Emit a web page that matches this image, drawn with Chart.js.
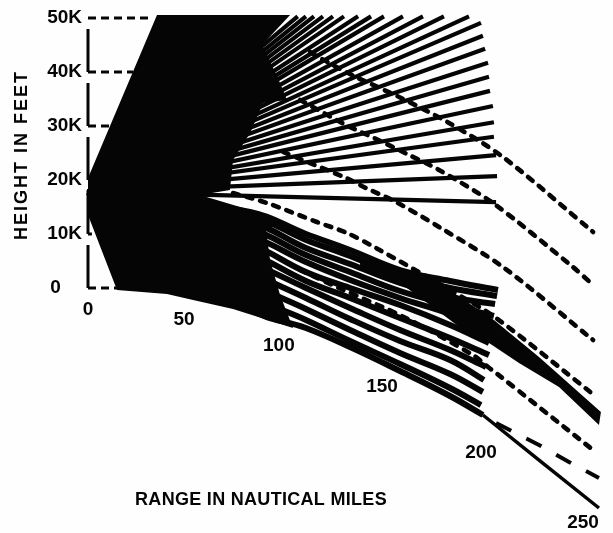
<!DOCTYPE html>
<html>
<head>
<meta charset="utf-8">
<title>Height and range</title>
<style>
  html, body { margin: 0; padding: 0; background: #fefefe; }
  canvas { display: block; filter: blur(0.5px); }
</style>
<script src="https://cdn.jsdelivr.net/npm/chart.js@4/dist/chart.umd.min.js"></script>
</head>
<body>
<canvas id="myChart" width="613" height="533"></canvas>
<script>
// values: range in nautical miles, height in thousands of feet
const heightTicks = [0, 10, 20, 30, 40, 50];
const heightTickLabels = ['0    ', '10K', '20K', '30K', '40K', '50K'];

const rangeLabels = ['0', '50', '100', '150', '200', '250'];
const rangeLabelX = [0, 49, 97.4, 150, 200.5, 252.6];
const rangeLabelY = [-4.07, -5.93, -10.74, -18.33, -30.56, -43.52];

const axisRange = [0, 0];
const axisHeight = [0, 48.3];
const leaderEnd = [14.8, 2, 2, 12.8, 23, 33];

// upper fan, straight rays from the antenna
const originRange = 0;
const originHeight = 17.8;
const rayEndRange = [107, 111.2, 115.3, 119.9, 125, 130.6, 137.8, 144.4, 151, 160.7, 170.9, 181.6, 194.4,
  200.5, 201.5, 202.6, 204.1, 204.6, 205.1, 206.6, 207.1, 207.1, 208.2, 208.7, 208.2];
const rayEndHeight = [50.3, 50.3, 50.3, 50.3, 50.3, 50.3, 50.3, 50.3, 50.3, 50.3, 50.3, 50.3, 50.3,
  49.1, 46.7, 44.3, 41.7, 39.1, 36.5, 33.7, 30.7, 28.0, 24.6, 20.7, 15.9];

// lower fan, curved lobes
const lobeRange = [0, 82.7, 111.2, 133.7, 159.2, 184.7];
const lobeEndRange = [209.2, 208.7, 207.7, 207.1, 205.6, 204.6, 204.6, 203.1, 202, 201.5, 200.5, 201.5];
const lobe1 = [17.8, 14.07, 10, 7.04, 3.33, 1.3, -0.37];
const lobe2 = [17.8, 13.33, 8.89, 5.93, 2.22, 0, -1.48];
const lobe3 = [17.8, 12.22, 7.41, 4.44, 0.93, -1.67, -2.96];
const lobe4 = [17.8, 10.93, 6.11, 2.96, -0.56, -3.15, -5.19];
const lobe5 = [17.8, 9.63, 4.81, 1.48, -1.85, -4.81, -7.78];
const lobe6 = [17.8, 8.15, 2.96, 0, -3.15, -6.85, -10.19];
const lobe7 = [17.8, 6.48, 1.3, -1.85, -5.56, -9.26, -12.41];
const lobe8 = [17.8, 4.81, 0, -3.7, -7.78, -11.48, -14.63];
const lobe9 = [17.8, 2.96, -1.85, -5.74, -9.81, -13.33, -17.04];
const lobe10 = [17.8, 0.93, -3.89, -7.78, -12.04, -15.93, -19.26];
const lobe11 = [17.8, -1.3, -5.93, -9.81, -14.07, -18.52, -21.67];
const lobe12 = [17.8, -3.89, -7.41, -10.93, -15.37, -20, -23.52];
const lobes = [lobe1, lobe2, lobe3, lobe4, lobe5, lobe6, lobe7, lobe8, lobe9, lobe10, lobe11, lobe12];

// solid black core and the heavy band
const coreRange = [0, 35.2, 103.1, 88.8, 96.9, 101.5, 89.3, 82.7, 74, 72.4, 57.1, 82.7, 99.5, 90.8, 92.9, 98, 104.6, 74, 53.6, 40.3, 14.8, 0];
const coreHeight = [20.37, 50.56, 50.56, 45, 38.89, 34.81, 34.26, 28.7, 23.7, 18.15, 17.22, 14.44, 12.22, 10.74, 5.19, -1.3, -7.41, -3.89, -2.22, -1.11, -0.37, 13.52];
const bandRange = [138.8, 174.5, 207.1, 230.1, 261.7, 260.7, 240.3, 219.9, 204.6, 194.9, 174.5, 159.2, 138.8];
const bandHeight = [5.56, 2.04, -5.93, -12.78, -22.96, -25.37, -18.33, -13.89, -10.19, -8.7, -3.15, 0.93, 3.7];

const groundRange = [201.5, 230.6, 260.7];
const groundHeight = [-23.52, -32, -40.74];

const longDashRange = [208.2, 230.1, 245.4, 260.7];
const longDashHeight = [-25, -29.07, -32.22, -35.19];

// dashed contours
const dashARange = [113.3, 123, 136.7, 158.7, 184.2, 211.7, 257.7];
const dashAHeight = [43.7, 41.67, 39.07, 35.37, 30.56, 24.26, 10.37];
const dashBRange = [108.2, 131.6, 145.9, 163.8, 179.1, 206.6, 247.4, 257.7];
const dashBHeight = [34.81, 30.19, 27.78, 24.63, 21.85, 15.74, 3.89, 0.56];
const dashCRange = [99.5, 131.6, 141.8, 157.1, 179.1, 211.7, 257.7];
const dashCHeight = [25.19, 20.37, 18.52, 15.93, 11.3, 3.89, -9.63];
const dashDRange = [74, 91.3, 116.8, 132.1, 146.9, 184.7, 208.2, 258.2];
const dashDHeight = [17.59, 15.74, 12.22, 10.19, 7.41, -0.37, -5.56, -19.81];
const dashERange = [108.2, 128.1, 162.2, 196.4, 204.1, 208.2, 257.7];
const dashEHeight = [3.33, 0, -5.56, -12.41, -14.63, -15.74, -30];

const ink = '#050505';
const labelFont = 'bold 19px "Liberation Sans"';
const titleFont = 'bold 18px "Liberation Sans"';

function pontos(xs, ys) {
    return ys.map(function (y, i) { return { x: xs[i], y: y }; });
}

function linha(xs, ys, width, extra) {
    return Object.assign({
        data: pontos(xs, ys),
        borderColor: ink,
        borderWidth: width,
        pointRadius: 0,
        fill: false,
        tension: 0,
        clip: false
    }, extra || {});
}

function forma(xs, ys) {
    return linha(xs, ys, 0, { fill: 'shape', backgroundColor: ink });
}

const datasets = [];
datasets.push(forma(coreRange, coreHeight));
datasets.push(forma(bandRange, bandHeight));

rayEndRange.forEach(function (endX, i) {
    datasets.push(linha([originRange, endX], [originHeight, rayEndHeight[i]], 4.2));
});

lobes.forEach(function (lobe, i) {
    datasets.push(linha(lobeRange.concat([lobeEndRange[i]]), lobe, 6, { tension: 0.4 }));
});

datasets.push(linha(groundRange, groundHeight, 3.5));
datasets.push(linha(longDashRange, longDashHeight, 4, { borderDash: [17, 17] }));

const contourStyle = { borderDash: [6, 8], borderCapStyle: 'round', tension: 0.3 };
datasets.push(linha(dashARange, dashAHeight, 4.6, contourStyle));
datasets.push(linha(dashBRange, dashBHeight, 4.6, contourStyle));
datasets.push(linha(dashCRange, dashCHeight, 4.6, contourStyle));
datasets.push(linha(dashDRange, dashDHeight, 4.6, contourStyle));
datasets.push(linha(dashERange, dashEHeight, 4.6, contourStyle));

// the height axis is broken up in the original
datasets.push(linha(axisRange, axisHeight, 3, { borderDash: [43, 11] }));
heightTicks.forEach(function (h, i) {
    datasets.push(linha([0, leaderEnd[i]], [h, h], 3, { borderDash: [8, 5] }));
});

// range labels follow the curved ground, so they can't sit on a normal x axis
const labelsPlugin = {
    id: 'labelsPlugin',
    afterDraw: function (chart) {
        const ctx = chart.ctx;
        const x = chart.scales.x;
        const y = chart.scales.y;
        ctx.save();
        ctx.fillStyle = ink;
        ctx.font = labelFont;
        ctx.textAlign = 'center';
        ctx.textBaseline = 'middle';
        rangeLabels.forEach(function (text, i) {
            ctx.fillText(text, x.getPixelForValue(rangeLabelX[i]), y.getPixelForValue(rangeLabelY[i]));
        });

        ctx.font = titleFont;
        ctx.letterSpacing = '0.3px';
        ctx.fillText('RANGE IN NAUTICAL MILES', 261, 500);

        ctx.letterSpacing = '2px';
        ctx.translate(22, 155);
        ctx.rotate(-Math.PI / 2);
        ctx.fillText('HEIGHT IN FEET', 0, 0);
        ctx.restore();
    }
};

const ctx = document.getElementById('myChart').getContext('2d');
let myChart = new Chart(ctx, {
    type: 'line',
    data: { datasets: datasets },
    plugins: [labelsPlugin],
    options: {
        responsive: false,
        animation: false,
        layout: { padding: 0, autoPadding: false },
        plugins: {
            legend: { display: false },
            tooltip: { enabled: false }
        },
        scales: {
            x: {
                type: 'linear',
                display: false,
                min: 0,
                max: 267.86
            },
            y: {
                type: 'linear',
                min: -45.37,
                max: 53.33,
                grid: { display: false, drawTicks: false },
                border: { display: false },
                afterFit: function (scale) {
                    scale.width = 88;
                    scale.paddingTop = 0;
                    scale.paddingBottom = 0;
                },
                afterBuildTicks: function (scale) {
                    scale.ticks = heightTicks.map(function (v) { return { value: v }; });
                },
                ticks: {
                    color: ink,
                    padding: 6,
                    autoSkip: false,
                    font: { family: 'Liberation Sans', size: 19, weight: 'bold' },
                    callback: function (value) {
                        return heightTickLabels[heightTicks.indexOf(value)];
                    }
                }
            }
        }
    }
});
</script>
</body>
</html>
